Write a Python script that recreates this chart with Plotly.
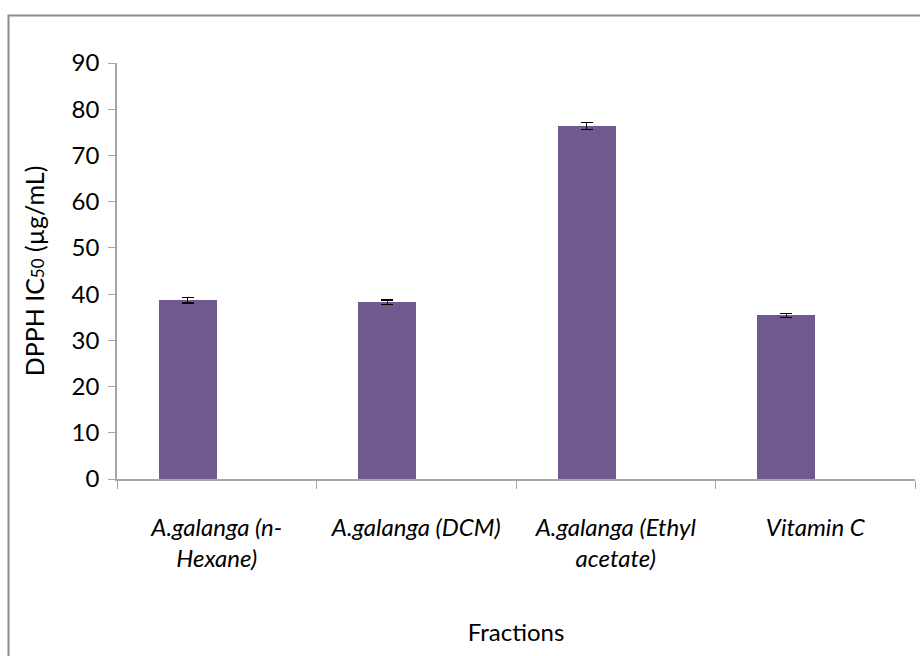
import plotly.graph_objects as go

categories = ["A.galanga (n-<br>Hexane)", "A.galanga (DCM)", "A.galanga (Ethyl<br>acetate)", "Vitamin C"]
values = [38.7, 38.2, 76.4, 35.4]
errors = [0.6, 0.5, 0.8, 0.4]
y_ticks = [0, 10, 20, 30, 40, 50, 60, 70, 80, 90]

FONT = "Lato"
BAR_COLOR = "#70598F"
AX_COLOR = "#A6A6A6"

fig = go.Figure()
fig.add_trace(go.Bar(
    x=categories, y=values,
    width=0.29, offset=-0.29,
    marker=dict(color=BAR_COLOR, line=dict(width=0)),
    error_y=dict(type="data", array=errors, visible=True, color="black", thickness=1.3, width=6),
    showlegend=False,
))

L, R, T, B = 117, 915, 63, 479
W, H = 920, 656
pw, ph = R - L, B - T

fig.update_layout(
    width=W, height=H,
    margin=dict(l=L, r=W - R, t=T, b=H - B, autoexpand=False),
    paper_bgcolor="white", plot_bgcolor="white",
    font=dict(family=FONT, size=24, color="black"),
    bargap=0,
    xaxis=dict(
        type="category",
        showline=True, linecolor=AX_COLOR, linewidth=2,
        ticks="outside", tickson="boundaries", ticklen=8, tickcolor=AX_COLOR, tickwidth=1,
        tickfont=dict(family=FONT, size=24, style="italic"),
        ticklabelstandoff=26,
        showgrid=False, zeroline=False,
        title=dict(text="Fractions", font=dict(family=FONT, size=24), standoff=53),
        automargin=False,
    ),
    yaxis=dict(
        range=[0, 90], tickvals=y_ticks,
        showline=True, linecolor=AX_COLOR, linewidth=1.5,
        ticks="outside", ticklen=7, tickcolor=AX_COLOR, tickwidth=1,
        tickfont=dict(family=FONT, size=24),
        ticklabelstandoff=4,
        showgrid=False, zeroline=False,
        title=dict(text="DPPH IC<span style='font-size:17px'>50</span> (µg/mL)",
                   font=dict(family=FONT, size=25), standoff=20),
        automargin=False,
    ),
)

# outer chart-area border (partially clipped at right/bottom like the reference)
fig.add_shape(
    type="rect", xref="paper", yref="paper",
    x0=(8.5 - L) / pw, x1=(930 - L) / pw,
    y0=(B - 670) / ph, y1=(B - 15.5) / ph,
    line=dict(color="#8C8C8C", width=2), fillcolor="rgba(0,0,0,0)", layer="below",
)

fig.write_html("out.html")
